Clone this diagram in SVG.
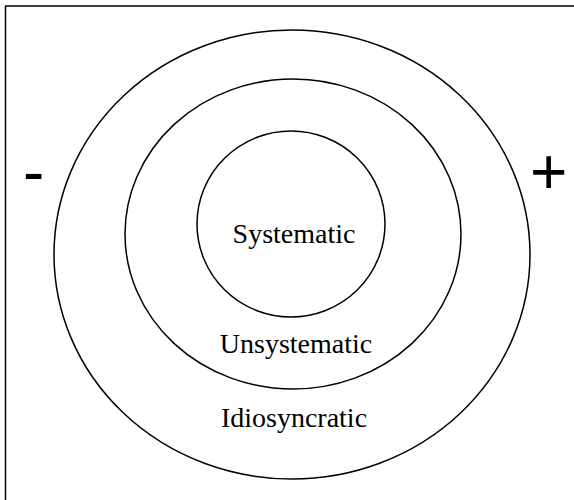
<svg xmlns="http://www.w3.org/2000/svg" width="574" height="500" viewBox="0 0 574 500">
<style>
.ring{fill:none;stroke:#000;stroke-width:1.5}
.lbl{font-family:"Liberation Serif","Times New Roman",serif;font-size:28px;fill:#000;text-anchor:middle}
.sign{font-family:"Liberation Sans",Arial,sans-serif;font-size:64px;fill:#000}
</style>
<rect x="5.5" y="6" width="620" height="560" fill="#fff" stroke="#000" stroke-width="1.5"/>
<g id="idiosyncratic">
<ellipse class="ring" cx="292" cy="254.5" rx="238" ry="224.5"/>
<text class="lbl" x="294" y="427">Idiosyncratic</text>
</g>
<g id="unsystematic">
<ellipse class="ring" cx="293" cy="234" rx="168" ry="155"/>
<text class="lbl" x="296" y="353">Unsystematic</text>
</g>
<g id="systematic">
<ellipse class="ring" cx="291" cy="224" rx="94" ry="93"/>
<text class="lbl" x="294" y="243">Systematic</text>
</g>
<g id="minus"><text class="sign" x="23" y="194">-</text></g>
<g id="plus"><text class="sign" x="530" y="194">+</text></g>
</svg>
